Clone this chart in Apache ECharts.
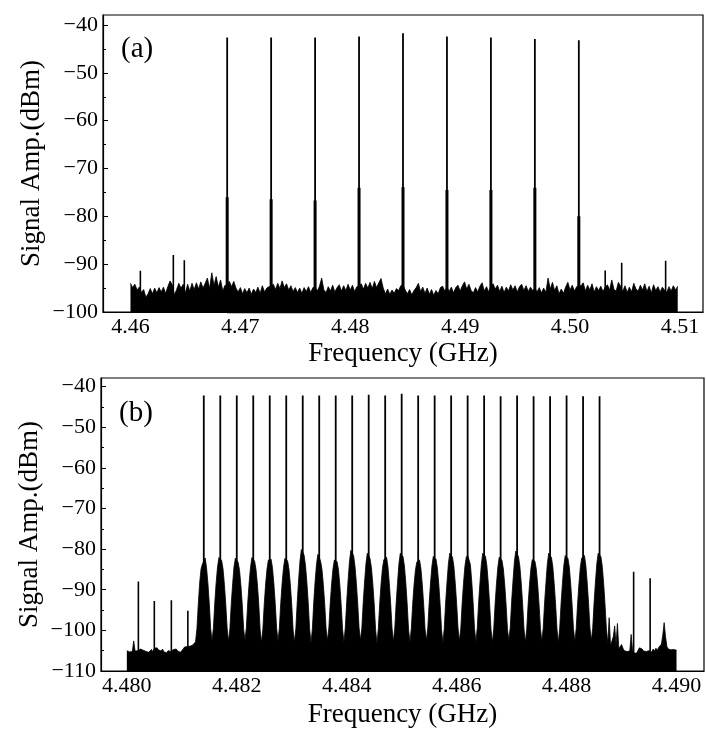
<!DOCTYPE html>
<html><head><meta charset="utf-8">
<script src="https://cdn.jsdelivr.net/npm/echarts@6/dist/echarts.min.js"></script>
<style>html,body{margin:0;padding:0;background:#fff}#c{width:706px;height:729px}</style>
</head><body><div id="c"></div>
<script>
const FONT = '"Liberation Serif","Times New Roman",serif';

// ---------- Panel (a) ----------
const noiseStartA = 4.46;   // GHz, first sweep point
const noiseStepA = 0.0002;  // GHz, sweep resolution
const noiseA = [
-94.0,-94.9,-94.2,-95.4,-94.8,-95.9,-95.3,-96.9,-96.2,-95.1,
-96.2,-95.0,-96.0,-94.9,-95.8,-94.8,-96.1,-94.7,-93.5,-94.3,
-96.4,-95.3,-94.0,-95.0,-94.2,-96.0,-94.2,-95.6,-94.0,-95.3,
-93.9,-95.2,-93.7,-95.0,-94.0,-92.9,-95.1,-91.8,-94.4,-92.6,
-94.8,-93.3,-95.6,-94.4,
-94.5,
-93.6,-94.7,-93.6,-95.0,-95.8,-94.9,-96.2,-95.1,-96.0,-95.0,-96.3,-95.2,-95.9,-94.8,-96.1,-94.5,-95.8,-95.0,-94.7,
-94.6,
-94.2,-95.3,-94.0,-95.1,-93.5,-94.9,-94.1,-95.4,-94.5,-95.7,-94.9,-95.9,-95.0,-96.1,-94.9,-95.7,-94.7,-95.9,-94.9,
-94.8,
-95.6,-94.6,-92.9,-95.4,-95.9,-94.7,-95.6,-94.4,-95.8,-94.9,-94.3,-95.6,-94.5,-95.5,-94.2,-95.4,-94.4,-95.7,-94.7,
-94.6,
-94.1,-95.2,-94.0,-95.0,-93.8,-95.1,-93.6,-94.9,-93.9,-93.0,-95.0,-96.2,-95.2,-96.3,-95.4,-96.1,-95.1,-95.5,-94.5,
-94.4,
-95.4,-96.2,-95.3,-96.4,-95.5,-94.9,-94.0,-95.7,-94.8,-96.1,-95.0,-96.3,-95.3,-96.5,-95.5,-96.2,-94.9,-94.6,-95.6,
-94.8,
-95.7,-94.8,-96.0,-94.9,-94.4,-95.6,-94.5,-93.7,-95.2,-94.2,-95.5,-96.0,-94.9,-95.8,-94.6,-93.9,-95.6,-94.7,-95.8,
-94.5,
-94.1,-95.2,-94.4,-95.7,-94.6,-95.9,-94.8,-95.6,-94.3,-95.4,-94.5,-95.8,-94.7,-94.2,-95.5,-94.5,-95.7,-94.8,-95.5,
-95.0,
-95.8,-94.9,-96.0,-95.0,-95.9,-92.9,-95.2,-93.8,-95.5,-94.5,-96.2,-95.2,-96.1,-94.8,-93.8,-95.4,-94.4,-95.6,-94.7,
-94.6,
-94.5,-93.9,-95.6,-94.4,-95.4,-94.1,-95.8,-94.7,-95.5,-94.6,
-95.7,-94.8,-94.3,-95.4,-93.3,-95.3,-95.6,-93.8,-94.6,-95.7,
-94.5,-95.9,-94.8,-95.8,-94.0,-95.2,-95.6,-94.4,-95.4,-94.1,
-95.7,-94.6,-96.0,-94.3,-95.5,-94.7,-95.8,-94.8,-95.4,-95.9,
-94.7,-95.6,-94.5,-95.4,-94.6
];
const carrierFreqA = [4.4688,4.4728,4.4768,4.4808,4.4848,4.4888,4.4928,4.4968,4.5008];
const carrierTopA  = [-42.6,-42.6,-42.6,-42.4,-41.7,-42.4,-42.6,-42.9,-43.2];
const carrierBaseA = [-76.0,-76.4,-76.7,-74.0,-73.9,-74.5,-74.5,-74.0,-80.0];
const spurFreqA = [4.4609,4.4639,4.4649,4.5032,4.5047,4.5087];
const spurTopA  = [-91.4,-88.1,-89.2,-91.3,-89.7,-89.3];
const xTicksA = [4.46,4.47,4.48,4.49,4.50,4.51];
const yTicksA = [-100,-90,-80,-70,-60,-50,-40];
const yMinorA = [-95,-85,-75,-65,-55,-45];

// ---------- Panel (b) ----------
const noiseStartB = 4.480;
const noiseStepB = 0.000025;
const noiseB = [
-105.0,-104.8,-105.3,-104.9,-105.2,-102.6,-105.1,-104.7,-105.0,-105.3,
-104.6,-104.2,-104.9,-104.5,-105.2,-104.8,-105.4,-105.0,-104.7,-105.3,
-104.4,-104.6,-104.3,-104.8,-104.5,-105.1,-104.6,-105.3,-104.9,-105.5,
-105.0,-104.7,-105.2,-105.4,-104.7,-104.4,-104.6,-105.1,-104.8,-105.4,
-105.0,-104.6,-104.1,-104.5,-104.0,-104.3,-103.9,-104.2,-103.6,-103.8,
-102.8,
-99.6,-93.5,-88.3,-84.9,-83.7,
-83.0,
-82.2,-84.6,-88.4,-93.4,-99.6,-102.5,-99.4,-93.2,-88.2,-84.4,-82.1,-82.3,
-82.8,-84.9,-88.7,-93.6,-99.5,-102.7,-99.6,-93.4,-88.5,-84.3,-82.2,-82.5,
-83.3,-85.2,-88.9,-93.7,-99.7,-102.4,-99.3,-93.1,-88.3,-84.5,-82.1,-82.4,
-83.0,-85.0,-88.6,-93.5,-99.8,-103.0,-99.6,-93.5,-88.6,-84.9,-82.7,-82.6,
-82.5,-84.7,-88.5,-93.4,-99.5,-102.6,-99.4,-93.3,-88.4,-84.6,-82.3,-82.5,
-82.9,-85.0,-88.8,-93.7,-99.9,-102.8,-99.5,-93.0,-87.6,-82.9,-80.1,-80.8,
-81.5,-84.0,-88.1,-93.2,-99.6,-103.1,-99.7,-93.2,-88.0,-83.8,-81.3,-82.0,
-83.0,-85.0,-88.7,-93.6,-99.6,-102.5,-99.4,-93.4,-88.6,-84.9,-82.7,-82.9,
-83.1,-85.1,-88.9,-93.8,-99.8,-102.9,-99.2,-92.9,-87.7,-83.1,-80.3,-80.9,
-81.6,-84.1,-88.2,-93.3,-99.4,-102.4,-99.5,-93.2,-88.1,-83.6,-81.0,-81.6,
-82.4,-84.6,-88.6,-93.5,-99.7,-103.2,-99.6,-93.5,-88.6,-84.8,-82.6,-82.2,
-82.0,-84.3,-88.4,-93.4,-99.5,-102.7,-99.4,-93.2,-88.2,-83.6,-81.0,-81.4,
-81.9,-84.2,-88.3,-93.5,-99.7,-102.9,-99.6,-93.6,-88.8,-85.2,-83.2,-82.9,
-82.7,-84.8,-88.7,-93.6,-99.6,-102.5,-99.4,-93.3,-88.3,-84.2,-81.8,-82.0,
-82.5,-84.7,-88.6,-93.7,-99.8,-103.1,-99.5,-93.1,-88.1,-83.6,-81.0,-81.5,
-82.0,-84.3,-88.4,-93.4,-99.4,-102.6,-99.6,-93.4,-88.4,-84.3,-82.0,-81.5,
-81.1,-83.8,-88.0,-93.2,-99.5,-102.8,-99.4,-93.1,-88.1,-83.6,-81.0,-81.3,
-81.8,-84.1,-88.3,-93.5,-99.7,-103.0,-99.6,-93.4,-88.5,-84.4,-82.0,-82.3,
-82.8,-84.9,-88.8,-93.8,-99.8,-102.4,-99.3,-92.9,-87.8,-83.2,-80.5,-81.1,
-81.9,-84.2,-88.3,-93.4,-99.6,-102.9,-99.7,-93.6,-88.8,-84.9,-82.6,-82.8,
-83.0,-85.0,-88.9,-93.8,-99.7,-102.6,-99.4,-93.2,-88.2,-83.6,-81.0,-81.5,
-82.1,-84.4,-88.5,-93.5,-99.6,-103.0,-99.5,-93.3,-88.3,-84.0,-81.6,-81.9,
-82.3,-84.5,-88.6,-93.6,-99.5,-102.7,-99.6,-93.5,-88.5,-84.5,-82.2,-81.8,
-81.6,-84.0,-88.2,-93.3,-99.4,-102.5,-99.5,-93.2,-88.1,-83.6,-81.0,-81.4,
-81.9,-84.3,-88.5,-93.8,-99.8,
-103.2,-96.9,-103.8,-103.5,-101.5,-98.9,-103.6,-98.3,-104.5,-104.0,
-103.5,-104.4,-105.0,-105.4,-105.2,-105.6,-105.1,-101.0,-104.9,-105.6,
-105.3,-105.6,-104.9,-104.3,-104.0,-104.6,-105.1,-105.5,-105.2,-105.6,
-105.0,-104.7,-105.3,-104.6,-105.1,-104.4,-104.9,-104.2,-104.6,-103.4,
-101.2,-98.1,-101.5,-104.0,-104.6,-104.3,-104.8,-104.4,-104.7,-104.5,
-104.9
];
const carrierFreqB = [4.4814,4.4817,4.4820,4.4823,4.4826,4.4829,4.4832,4.4835,4.4838,4.4841,
  4.4844,4.4847,4.4850,4.4853,4.4856,4.4859,4.4862,4.4865,4.4868,4.4871,4.4874,4.4877,4.4880,4.4883,4.4886];
const carrierTopB = [-42.2,-42.2,-42.2,-42.2,-42.2,-42.2,-42.2,-42.2,-42.2,-42.2,
  -42.0,-42.2,-41.8,-42.2,-42.2,-42.2,-42.2,-42.2,-42.4,-42.2,-42.4,-42.4,-42.2,-42.4,-42.4];
const spurFreqB = [4.48021,4.48050,4.48081,4.48111,4.48922,4.48952];
const spurTopB  = [-88.0,-92.8,-92.6,-95.2,-85.6,-87.2];
const xTicksB = [4.480,4.482,4.484,4.486,4.488,4.490];
const yTicksB = [-110,-100,-90,-80,-70,-60,-50,-40];
const yMinorB = [-105,-95,-85,-75,-65,-55,-45];

// ---------- build ----------
function grid(start, step, vals){ return vals.map((v,i)=>[start + step*i, v]); }
function vlines(freqs, tops, floor){
  const d=[]; freqs.forEach((f,i)=>{ d.push([f,floor],[f,tops[i]],[f,floor]); }); return d;
}
const minus = s => String(s).replace('-', '\u2212');
const txt = {color:'#000', fontFamily:FONT};

function xAxisFor(gi, min, max, ticks, dec, gap){
  return {type:'value', gridIndex:gi, min:min, max:max,
    name:'Frequency (GHz)', nameLocation:'middle', nameGap:gap,
    nameTextStyle:Object.assign({fontSize:27}, txt),
    axisLine:{show:true, lineStyle:{color:'#000', width:1.2}},
    axisTick:{show:false}, splitLine:{show:false},
    axisLabel:Object.assign({fontSize:22, margin:4, customValues:ticks,
      formatter:v=>Number(v).toFixed(dec)}, txt)};
}
function yAxisFor(gi, min, max, ticks){
  return {type:'value', gridIndex:gi, min:min, max:max,
    name:'Signal Amp.(dBm)', nameLocation:'middle', nameGap:58, nameMoveOverlap:false,
    nameTextStyle:Object.assign({fontSize:27}, txt),
    axisLine:{show:true, lineStyle:{color:'#000', width:1.2}},
    axisTick:{show:true, inside:true, length:5, customValues:ticks, lineStyle:{color:'#000', width:1}},
    splitLine:{show:false},
    axisLabel:Object.assign({fontSize:22, margin:5, customValues:ticks,
      formatter:v=>minus(Math.round(v))}, txt)};
}
function yMinorFor(gi, min, max, ticks){
  return {type:'value', gridIndex:gi, min:min, max:max, position:'left',
    axisLine:{show:false}, splitLine:{show:false}, axisLabel:{show:false},
    axisTick:{show:true, inside:true, length:3, customValues:ticks, lineStyle:{color:'#000', width:1}}};
}
function noiseSeries(xi, yi, data){
  return {type:'line', xAxisIndex:xi, yAxisIndex:yi, data:data, showSymbol:false, symbol:'none',
    sampling:null, lineStyle:{color:'#000', width:0.8}, areaStyle:{color:'#000', opacity:1, origin:'start'},
    silent:true, z:2};
}
function lineSeries(xi, yi, data, w){
  return {type:'line', xAxisIndex:xi, yAxisIndex:yi, data:data, showSymbol:false, symbol:'none',
    lineStyle:{color:'#000', width:w}, silent:true, z:3};
}

const option = {
  animation:false,
  backgroundColor:'#fff',
  title:[
    {text:'(a)', left:121, top:35, padding:0, textStyle:{fontSize:29, fontWeight:'normal', color:'#000', fontFamily:FONT}},
    {text:'(b)', left:119, top:399, padding:0, textStyle:{fontSize:29, fontWeight:'normal', color:'#000', fontFamily:FONT}}
  ],
  grid:[
    {left:103, top:15, width:600, height:297, show:true, borderColor:'#000', borderWidth:1.2, backgroundColor:'transparent'},
    {left:101, top:378, width:603, height:294, show:true, borderColor:'#000', borderWidth:1.2, backgroundColor:'transparent'}
  ],
  xAxis:[
    xAxisFor(0, 4.4575, 4.5121, xTicksA, 2, 28),
    xAxisFor(1, 4.47953, 4.4905, xTicksB, 3, 30)
  ],
  yAxis:[
    yAxisFor(0, -100, -37.9, yTicksA),
    yAxisFor(1, -110, -37.9, yTicksB),
    yMinorFor(0, -100, -37.9, yMinorA),
    yMinorFor(1, -110, -37.9, yMinorB)
  ],
  series:[
    noiseSeries(0, 0, grid(noiseStartA, noiseStepA, noiseA)),
    lineSeries(0, 0, vlines(spurFreqA, spurTopA, -100), 1.6),
    lineSeries(0, 0, vlines(carrierFreqA, carrierTopA, -100), 1.8),
    lineSeries(0, 0, vlines(carrierFreqA, carrierBaseA, -100), 3),
    noiseSeries(1, 1, grid(noiseStartB, noiseStepB, noiseB)),
    lineSeries(1, 1, vlines(spurFreqB, spurTopB, -110), 1.6),
    lineSeries(1, 1, vlines(carrierFreqB, carrierTopB, -110), 1.8)
  ]
};
const chart = echarts.init(document.getElementById('c'), null, {renderer:'canvas'});
chart.setOption(option);
</script>
</body></html>
